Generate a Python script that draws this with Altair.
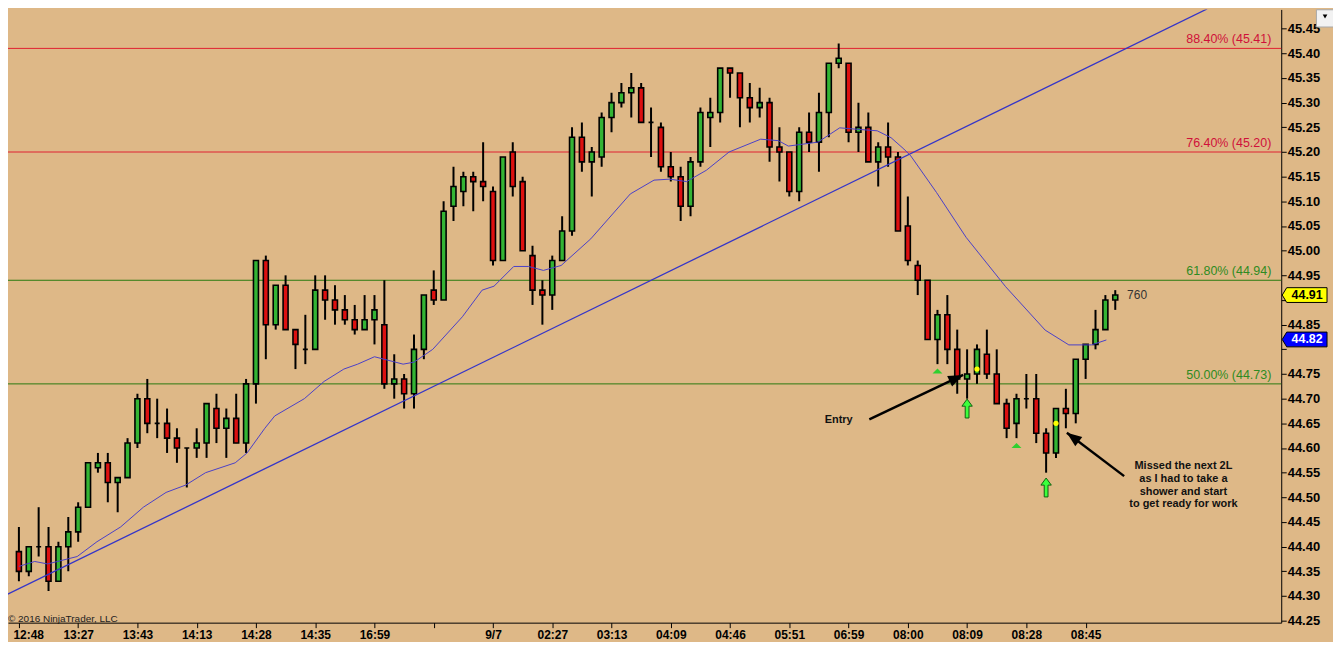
import altair as alt
import pandas as pd

OPEN = [44.39, 44.35, 44.40, 44.40, 44.33, 44.40, 44.43, 44.48, 44.56, 44.57,
        44.53, 44.54, 44.61, 44.70, 44.65, 44.65, 44.62, 44.60, 44.60, 44.61,
        44.68, 44.64, 44.66, 44.61, 44.73, 44.98, 44.85, 44.93, 44.84, 44.80,
        44.80, 44.92, 44.90, 44.88, 44.86, 44.84, 44.86, 44.85, 44.73, 44.74,
        44.71, 44.80, 44.92, 44.90, 45.09, 45.12, 45.15, 45.14, 45.12, 44.98,
        45.20, 45.14, 44.99, 44.92, 44.91, 44.98, 45.04, 45.23, 45.18, 45.19,
        45.27, 45.30, 45.32, 45.33, 45.26, 45.25, 45.17, 45.15, 45.09, 45.18,
        45.27, 45.28, 45.37, 45.36, 45.31, 45.29, 45.30, 45.21, 45.20, 45.12,
        45.24, 45.22, 45.28, 45.38, 45.38, 45.24, 45.25, 45.18, 45.21, 45.19,
        45.05, 44.97, 44.94, 44.82, 44.87, 44.80, 44.74, 44.75, 44.79, 44.75,
        44.69, 44.65, 44.70, 44.70, 44.63, 44.59, 44.68, 44.67, 44.78, 44.81,
        44.84, 44.90]
HIGH = [44.44, 44.40, 44.48, 44.44, 44.41, 44.46, 44.49, 44.57, 44.59, 44.59,
        44.54, 44.62, 44.71, 44.74, 44.70, 44.68, 44.64, 44.60, 44.64, 44.69,
        44.71, 44.68, 44.71, 44.74, 44.98, 44.99, 44.93, 44.95, 44.84, 44.87,
        44.95, 44.95, 44.93, 44.91, 44.89, 44.91, 44.91, 44.94, 44.79, 44.75,
        44.83, 44.91, 44.96, 45.10, 45.17, 45.16, 45.16, 45.22, 45.13, 45.19,
        45.22, 45.15, 45.01, 44.94, 44.99, 45.07, 45.25, 45.26, 45.21, 45.28,
        45.32, 45.34, 45.36, 45.34, 45.29, 45.26, 45.20, 45.17, 45.19, 45.29,
        45.31, 45.37, 45.37, 45.36, 45.34, 45.33, 45.31, 45.25, 45.20, 45.25,
        45.28, 45.32, 45.38, 45.42, 45.38, 45.30, 45.28, 45.22, 45.26, 45.20,
        45.11, 44.98, 44.94, 44.88, 44.91, 44.84, 44.80, 44.81, 44.84, 44.80,
        44.70, 44.71, 44.75, 44.75, 44.64, 44.68, 44.72, 44.78, 44.81, 44.88,
        44.91, 44.92]
LOW = [44.33, 44.34, 44.38, 44.31, 44.33, 44.35, 44.41, 44.48, 44.55, 44.49,
       44.47, 44.54, 44.60, 44.63, 44.62, 44.59, 44.57, 44.52, 44.58, 44.58,
       44.61, 44.58, 44.61, 44.59, 44.69, 44.78, 44.84, 44.84, 44.76, 44.77,
       44.80, 44.86, 44.85, 44.85, 44.83, 44.84, 44.81, 44.72, 44.70, 44.68,
       44.68, 44.78, 44.89, 44.90, 45.06, 45.09, 45.08, 45.10, 44.97, 44.98,
       45.11, 45.00, 44.89, 44.85, 44.88, 44.98, 45.03, 45.16, 45.11, 45.17,
       45.24, 45.29, 45.27, 45.26, 45.19, 45.16, 45.14, 45.06, 45.07, 45.17,
       45.21, 45.26, 45.31, 45.25, 45.26, 45.27, 45.18, 45.14, 45.11, 45.10,
       45.20, 45.16, 45.23, 45.37, 45.22, 45.20, 45.18, 45.13, 45.17, 45.04,
       44.97, 44.91, 44.82, 44.77, 44.77, 44.71, 44.70, 44.73, 44.74, 44.69,
       44.62, 44.62, 44.68, 44.61, 44.55, 44.58, 44.64, 44.65, 44.74, 44.80,
       44.84, 44.88]
CLOSE = [44.35, 44.40, 44.40, 44.33, 44.40, 44.43, 44.48, 44.57, 44.57, 44.53,
         44.54, 44.61, 44.70, 44.65, 44.65, 44.62, 44.60, 44.60, 44.61, 44.69,
         44.64, 44.66, 44.61, 44.73, 44.98, 44.85, 44.93, 44.84, 44.81, 44.80,
         44.92, 44.90, 44.88, 44.86, 44.84, 44.86, 44.88, 44.73, 44.74, 44.71,
         44.80, 44.91, 44.90, 45.08, 45.13, 45.15, 45.14, 45.13, 44.98, 45.19,
         45.13, 45.00, 44.92, 44.91, 44.98, 45.04, 45.23, 45.18, 45.20, 45.27,
         45.30, 45.32, 45.33, 45.26, 45.26, 45.17, 45.15, 45.09, 45.18, 45.28,
         45.28, 45.37, 45.36, 45.31, 45.29, 45.30, 45.21, 45.20, 45.12, 45.24,
         45.22, 45.28, 45.38, 45.39, 45.24, 45.25, 45.18, 45.21, 45.19, 45.04,
         44.98, 44.94, 44.82, 44.87, 44.80, 44.74, 44.75, 44.80, 44.75, 44.69,
         44.64, 44.70, 44.70, 44.63, 44.59, 44.68, 44.67, 44.78, 44.81, 44.84,
         44.90, 44.91]

MA_IDX = [0, 1.6, 2.9, 5.9, 7.9, 10.3, 12.6, 14.9, 16.9, 18.9, 21.9, 23.1, 24.9,
          25.9, 28.9, 30.9, 32.9, 34.3, 36, 38.9, 40, 41.9, 44.9, 46.9, 48.1,
          50.1, 51.6, 53.1, 54.9, 57.9, 61.9, 64.3, 65.9, 67.6, 69.6, 71.9,
          75.1, 76.9, 77.9, 80.9, 83.1, 84.9, 86.9, 88.3, 89.6, 90.3, 92.9,
          95.9, 99.9, 103.9, 106.3, 108.6, 110.1]
MA_VAL = [44.36, 44.37, 44.365, 44.38, 44.41, 44.44, 44.48, 44.51, 44.525, 44.55,
          44.57, 44.59, 44.64, 44.665, 44.70, 44.735, 44.76, 44.77, 44.785,
          44.77, 44.774, 44.80, 44.866, 44.92, 44.928, 44.968, 44.968, 44.96,
          44.97, 45.024, 45.115, 45.143, 45.145, 45.14, 45.163, 45.20, 45.226,
          45.223, 45.212, 45.22, 45.249, 45.246, 45.243, 45.229, 45.206, 45.192,
          45.118, 45.027, 44.927, 44.839, 44.809, 44.809, 44.819]

TREND_IDX = [-1.4, 120.3]
TREND_VAL = [44.301, 45.49]

FIB_LEVELS = [45.41, 45.20, 44.94, 44.73]
FIB_LABELS = ["88.40% (45.41)", "76.40% (45.20)", "61.80% (44.94)", "50.00% (44.73)"]
FIB_LINE_COLORS = ["#E02030", "#E02030", "#2A7A10", "#2A7A10"]
FIB_TEXT_COLORS = ["#D0103A", "#D0103A", "#2E8B22", "#2E8B22"]

TICK_LABELS = ["12:48", "13:27", "13:43", "14:13", "14:28", "14:35", "16:59", "",
               "9/7", "02:27", "03:13", "04:09", "04:46", "05:51", "06:59",
               "08:00", "08:09", "08:28", "08:45"]
TICK_IDX = [0, 6, 12, 18, 24, 30, 36, 42, 48, 54, 60, 66, 72, 78, 84, 90, 96, 102, 108]
Y_TICKS = [44.25, 44.30, 44.35, 44.40, 44.45, 44.50, 44.55, 44.60, 44.65, 44.70,
           44.75, 44.80, 44.85, 44.90, 44.95, 45.00, 45.05, 45.10, 45.15, 45.20,
           45.25, 45.30, 45.35, 45.40, 45.45]

TRI_IDX = [93, 101]
TRI_VAL = [44.756, 44.605]
UPARROW_IDX = [96, 104]
UPARROW_VAL = [44.68, 44.52]
DOT_IDX = [97, 105]
DOT_VAL = [44.76, 44.65]

ARROW_TAIL_IDX = [86.1, 111.9]
ARROW_TAIL_VAL = [44.658, 44.543]
ARROW_TIP_IDX = [95.6, 106.1]
ARROW_TIP_VAL = [44.748, 44.631]
ARROW_ANGLE = [65, 307]

NOTES = ["Entry", "Missed the next 2L\nas I had to take a\nshower and start\nto get ready for work"]
NOTE_IDX = [83.0, 117.9]
NOTE_VAL = [44.668, 44.575]

LAST_PRICE = 44.91
MA_LAST = 44.82
COUNT_LABEL = "760"
COUNT_IDX = 112.2

BG = "#DEB887"
GREEN = "#34B434"
RED = "#DD1010"

xs = alt.Scale(domain=[-0.6, 127.3], nice=False, zero=False)
ys = alt.Scale(domain=[44.246, 45.489], nice=False, zero=False)

labels_js = "[" + ",".join("'" + t + "'" for t in TICK_LABELS) + "]"
y_label_expr = ("abs(datum.value - %s) < 0.025 || abs(datum.value - %s) < 0.025 ? '' : "
                "format(datum.value, '.2f')") % (LAST_PRICE, MA_LAST)
first_tick = "datum.value === %d" % TICK_IDX[0]

X_AX = alt.Axis(
    values=TICK_IDX, labelExpr=labels_js + "[round(datum.value / 6)]",
    title=None, grid=False, orient="bottom", labelFontSize=12,
    labelFontWeight="bold", labelColor="black", tickColor="black",
    tickSize=5, labelPadding=2, domainColor="black", domainWidth=1,
    labelFlush=False, labelOverlap=False,
    labelAlign={"condition": {"test": first_tick, "value": "left"}, "value": "center"},
    labelOffset={"condition": {"test": first_tick, "value": -6}, "value": 0})
Y_AX = alt.Axis(
    values=Y_TICKS, labelExpr=y_label_expr, title=None, grid=False, orient="right",
    labelFontSize=13, labelFontWeight="bold", labelColor="black",
    tickColor="black", tickSize=5, labelPadding=1, domainColor="black",
    domainWidth=1, labelOverlap=False, labelFlush=False)


def X(field):
    return alt.X(field, type="quantitative", scale=xs, axis=X_AX)


def Y(field):
    return alt.Y(field, type="quantitative", scale=ys, axis=Y_AX)


candles = pd.DataFrame({"i": list(range(len(OPEN))), "open": OPEN, "high": HIGH,
                        "low": LOW, "close": CLOSE})
candles["col"] = [GREEN if c >= o else RED for o, c in zip(OPEN, CLOSE)]

wicks = alt.Chart(candles).mark_rule(color="black", strokeWidth=2, clip=True).encode(
    x=X("i"), y=Y("low"), y2="high")

bodies = alt.Chart(candles).mark_bar(width=5, stroke="black", strokeWidth=1.6,
                                     clip=True).encode(
    x=X("i"), y=Y("open"), y2="close", fill=alt.Fill("col:N", scale=None))

fib = pd.DataFrame({"level": FIB_LEVELS, "label": FIB_LABELS,
                    "lc": FIB_LINE_COLORS, "tc": FIB_TEXT_COLORS})
fib_lines = alt.Chart(fib).mark_rule(strokeWidth=1).encode(
    y=Y("level"), color=alt.Color("lc:N", scale=None))
fib_text = alt.Chart(fib).mark_text(align="right", baseline="alphabetic", dy=-5,
                                    fontSize=12.5).encode(
    x=alt.value(1269), y=Y("level"), text="label:N",
    color=alt.Color("tc:N", scale=None))

trend = alt.Chart(pd.DataFrame({"i": TREND_IDX, "p": TREND_VAL})).mark_line(
    color="#3535C8", strokeWidth=1.3, clip=True).encode(x=X("i"), y=Y("p"))

ma = alt.Chart(pd.DataFrame({"i": MA_IDX, "p": MA_VAL})).mark_line(
    color="#4A40C8", strokeWidth=1, clip=True).encode(x=X("i"), y=Y("p"))

TRI_PATH = "M0,-0.5 L1,0.5 L-1,0.5 Z"
tris = alt.Chart(pd.DataFrame({"i": TRI_IDX, "p": TRI_VAL})).mark_point(
    shape=TRI_PATH, filled=True, fill="#2FD02F", size=100, opacity=1,
    strokeWidth=0).encode(x=X("i"), y=Y("p"))

UP_PATH = "M0,-1 L0.55,-0.25 L0.2,-0.25 L0.2,1 L-0.2,1 L-0.2,-0.25 L-0.55,-0.25 Z"
ups = alt.Chart(pd.DataFrame({"i": UPARROW_IDX, "p": UPARROW_VAL})).mark_point(
    shape=UP_PATH, filled=True, fill="#3CFF3C", stroke="#106010", strokeWidth=1,
    size=361, opacity=1).encode(x=X("i"), y=Y("p"))

dots = alt.Chart(pd.DataFrame({"i": DOT_IDX, "p": DOT_VAL})).mark_point(
    shape="circle", filled=True, fill="#FFFF00", size=28, opacity=1,
    strokeWidth=0).encode(x=X("i"), y=Y("p"))

arrows_df = pd.DataFrame({"ti": ARROW_TAIL_IDX, "tp": ARROW_TAIL_VAL,
                          "hi": ARROW_TIP_IDX, "hp": ARROW_TIP_VAL, "ang": ARROW_ANGLE})
arrow_lines = alt.Chart(arrows_df).mark_rule(color="black", strokeWidth=2.5).encode(
    x=X("ti"), x2="hi", y=Y("tp"), y2="hp")
HEAD_PATH = "M0,0 L0.7,1.8 L-0.7,1.8 Z"
arrow_heads = alt.Chart(arrows_df).mark_point(
    shape=HEAD_PATH, filled=True, fill="black", size=277, opacity=1,
    strokeWidth=0).encode(x=X("hi"), y=Y("hp"), angle=alt.Angle("ang:Q", scale=None))

notes = alt.Chart(pd.DataFrame({"i": NOTE_IDX, "p": NOTE_VAL, "t": NOTES})).mark_text(
    align="center", baseline="top", fontSize=11, fontWeight="bold", color="#111111",
    lineBreak="\n", lineHeight=12.7).encode(x=X("i"), y=Y("p"), text="t:N")

count = alt.Chart(pd.DataFrame({"i": [COUNT_IDX], "p": [LAST_PRICE],
                                "t": [COUNT_LABEL]})).mark_text(
    align="left", baseline="middle", fontSize=12, color="#333333").encode(
    x=X("i"), y=Y("p"), text="t:N")

MARK_PATH = "M-1,0 L-0.8,-0.33 L1,-0.33 L1,0.33 L-0.8,0.33 Z"
markers = pd.DataFrame({"p": [LAST_PRICE, MA_LAST], "t": ["44.91", "44.82"],
                        "fill": ["#FFFF00", "#0000FF"], "tc": ["#000000", "#FFFFFF"]})
marker_box = alt.Chart(markers).mark_point(
    shape=MARK_PATH, filled=True, size=2025, opacity=1, stroke="black", strokeWidth=1,
    clip=False).encode(
    x=alt.value(1302.5), y=Y("p"), fill=alt.Fill("fill:N", scale=None))
marker_text = alt.Chart(markers).mark_text(
    align="center", baseline="middle", fontSize=12.5, fontWeight="bold").encode(
    x=alt.value(1305), y=Y("p"), text="t:N", color=alt.Color("tc:N", scale=None))

# small dropdown button at top right of the price axis
ui = pd.DataFrame({"k": ["box"]})
ui_box = alt.Chart(ui).mark_point(shape="square", filled=True, fill="#F2F2F2",
                                  stroke="#A8A8A8", strokeWidth=1, size=300,
                                  opacity=1, clip=False).encode(
    x=alt.value(1323), y=alt.value(9))
ui_tri = alt.Chart(ui).mark_point(shape="triangle-down", filled=True, fill="black",
                                  size=22, opacity=1, strokeWidth=0, clip=False).encode(
    x=alt.value(1323), y=alt.value(7))

copyright_txt = alt.Chart(pd.DataFrame({"t": ["\u00a9 2016 NinjaTrader, LLC"]})).mark_text(
    align="left", baseline="middle", fontSize=10, color="#222222").encode(
    x=alt.value(0), y=alt.value(612), text="t:N")

chart = alt.layer(
    fib_lines, wicks, bodies, trend, ma, fib_text, tris, ups, dots,
    arrow_lines, arrow_heads, notes, count, marker_box, marker_text,
    ui_box, ui_tri, copyright_txt
).properties(
    width=1279, height=616,
    autosize=alt.AutoSizeParams(type="none"),
    padding={"left": 0, "top": 0, "right": 52, "bottom": 18},
    background=BG,
).configure(font="Liberation Sans").configure_view(stroke=None)

chart.save("out.html", embed_options={"renderer": "svg", "actions": False})
